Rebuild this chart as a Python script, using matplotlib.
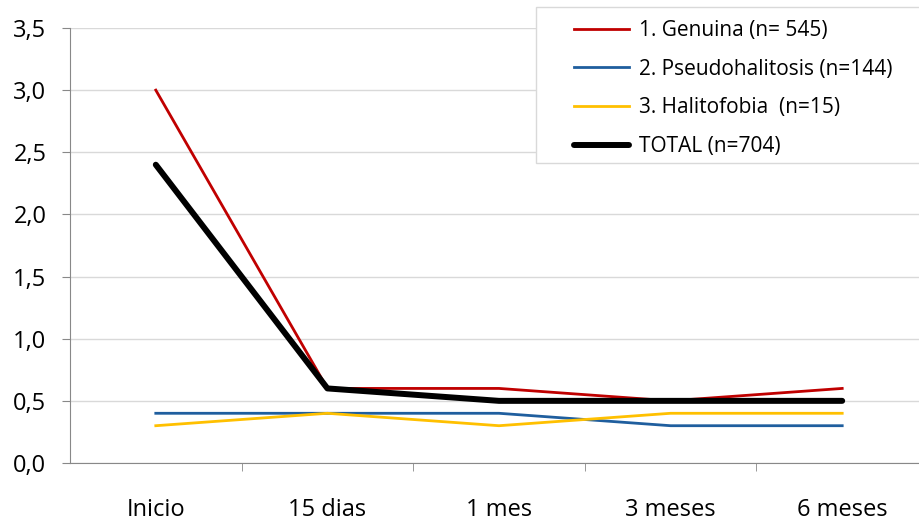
import matplotlib
matplotlib.use("Agg")
import matplotlib.pyplot as plt
from matplotlib.patches import Rectangle
from matplotlib.ticker import FuncFormatter

plt.rcParams["font.family"] = ["Open Sans", "DejaVu Sans"]

categories = ["Inicio", "15 dias", "1 mes", "3 meses", "6 meses"]
genuina = [3.0, 0.6, 0.6, 0.5, 0.6]
pseudo = [0.4, 0.4, 0.4, 0.3, 0.3]
halito = [0.3, 0.4, 0.3, 0.4, 0.4]
total = [2.4, 0.6, 0.5, 0.5, 0.5]
labels = ["1. Genuina (n= 545)", "2. Pseudohalitosis (n=144)",
          "3. Halitofobia  (n=15)", "TOTAL (n=704)"]

fig = plt.figure(figsize=(9.19, 5.25), dpi=100)
ax = fig.add_axes([70 / 919, 1 - 463 / 525, 858 / 919, 435 / 525])

x = range(len(categories))
ax.plot(x, genuina, color="#C00000", lw=2.0, label=labels[0])
ax.plot(x, pseudo, color="#1F5E9E", lw=2.0, label=labels[1])
ax.plot(x, halito, color="#FFC000", lw=2.0, label=labels[2])
ax.plot(x, total, color="black", lw=4.3, solid_capstyle="round", label=labels[3])

ax.set_xlim(-0.5, len(categories) - 0.5)
ax.set_ylim(0, 3.5)
ax.set_yticks([i * 0.5 for i in range(8)])
ax.yaxis.set_major_formatter(FuncFormatter(lambda v, p: f"{v:.1f}".replace(".", ",")))
ax.set_xticks(list(x))
ax.set_xticklabels(categories)
ax.set_xticks([i + 0.5 for i in range(len(categories) - 1)], minor=True)
ax.tick_params(axis="x", which="major", length=0, pad=25, labelsize=17)
ax.tick_params(axis="x", which="minor", length=6, color="#888888")
ax.tick_params(axis="y", length=6, color="#888888", labelsize=17, pad=11)

ax.grid(axis="y", color="#D9D9D9", lw=1)
ax.set_axisbelow(True)
for s in ["top", "right"]:
    ax.spines[s].set_visible(False)
ax.spines["left"].set_color("#888888")
ax.spines["bottom"].set_color("#888888")

# legend box runs past the right edge of the picture
fig.patches.append(Rectangle((536 / 919, 1 - 163 / 525), 400 / 919, 156 / 525,
                             transform=fig.transFigure, facecolor="white",
                             edgecolor="#D9D9D9", lw=1))
leg = fig.legend(loc="upper left", bbox_to_anchor=(574 / 919, 1 - 20 / 525),
                 fontsize=15, frameon=False, handlelength=2.65, handletextpad=0.45,
                 labelspacing=0.85, borderpad=0, borderaxespad=0)

fig.savefig("out.png", dpi=100)
